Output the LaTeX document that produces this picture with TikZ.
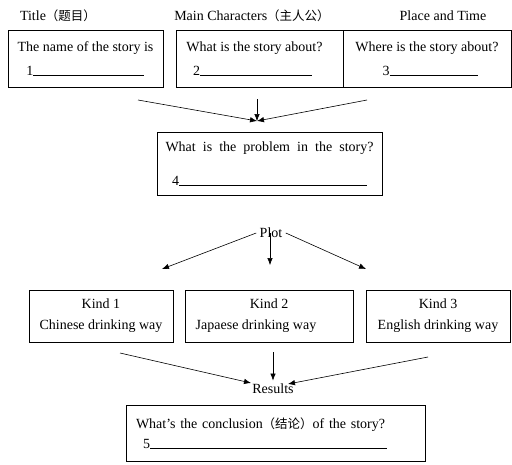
\documentclass[tikz,border=0pt]{standalone}
\usepackage{fontspec}
\setmainfont{Liberation Serif}
\newfontfamily\cjk{Noto Sans CJK SC}
\usetikzlibrary{arrows.meta}

\tikzset{
  box/.style={draw, line width=0.8pt, inner sep=0pt, align=center},
  arr/.style={-{Latex[length=7pt,width=5.5pt]}, line width=0.6pt},
}
\newcommand{\blankline}[2]{#1\rule{#2}{0.5pt}}

\begin{document}
\begin{tikzpicture}[x=1pt,y=-1pt,font=\fontsize{14}{15}\selectfont]
\useasboundingbox (0,0) rectangle (512,464);

% headings
\node (title) at (58,16) {Title{\cjk\fontsize{12.5}{14}\selectfont（题目）}};
\node (chars) at (252,16) {Main Characters{\cjk\fontsize{12.5}{14}\selectfont（主人公）}};
\node (place) at (443,16) {Place and Time};

% first row
\node[box, minimum width=155pt, minimum height=57pt] (name) at (85.5,58.5)
  {The name of the story is\\[9pt]\blankline{1}{111pt}};
\node[box, minimum width=167pt, minimum height=57pt] (about) at (259.5,58.5)
  {What is the story about?\hspace*{10pt}\\[9pt]\blankline{2}{112pt}\hspace*{14pt}};
\node[box, minimum width=168pt, minimum height=57pt] (where) at (427,58.5)
  {Where is the story about?\\[9pt]\hspace*{6pt}\blankline{3}{88pt}};

\coordinate (tl) at (138,100);
\coordinate (tm) at (257,99);
\coordinate (tr) at (367,100);
\coordinate (meet) at (257,121);
\draw[arr] (tl) -- (meet);
\draw[arr] (tm) -- (meet);
\draw[arr] (tr) -- (meet);

% problem
\node[box, minimum width=225pt, minimum height=63pt] (problem) at (269.5,163.5)
  {\makebox[208pt][s]{What is the problem in the story?}\\[19pt]\blankline{4}{188pt}};

% plot
\node (plot) at (271,233) {Plot};
\coordinate (k1top) at (162,269);
\coordinate (k2top) at (270,265);
\coordinate (k3top) at (366,269);
\draw[arr] (plot.west) -- (k1top);
\draw[arr] ([xshift=-1pt]plot.center) -- (k2top);
\draw[arr] (plot.east) -- (k3top);

\node[box, minimum width=144pt, minimum height=52pt] (kind1) at (101,316)
  {Kind 1\\[6pt]Chinese drinking way};
\node[box, minimum width=168pt, minimum height=52pt] (kind2) at (269,316)
  {Kind 2\\[6pt]Japaese drinking way\hspace*{26pt}};
\node[box, minimum width=144pt, minimum height=52pt] (kind3) at (438,316)
  {Kind 3\\[6pt]English drinking way};

% results
\node (results) at (273,389) {Results};
\coordinate (r1) at (120,353);
\coordinate (r2) at (273,352);
\coordinate (r3) at (428,357);
\coordinate (r1end) at (251,383);
\coordinate (r3end) at (288,384);
\draw[arr] (r1) -- (r1end);
\draw[arr] (r2) -- (results.north);
\draw[arr] (r3) -- (r3end);

\node[box, minimum width=299pt, minimum height=56pt, text width=279pt, inner xsep=10pt, align=left] (conclusion) at (275.5,433)
  {What’s the conclusion{\cjk\fontsize{12.5}{14}\selectfont（结论）}of the story?\\[5pt]\hspace*{7pt}\blankline{5}{237pt}};
\end{tikzpicture}
\end{document}
